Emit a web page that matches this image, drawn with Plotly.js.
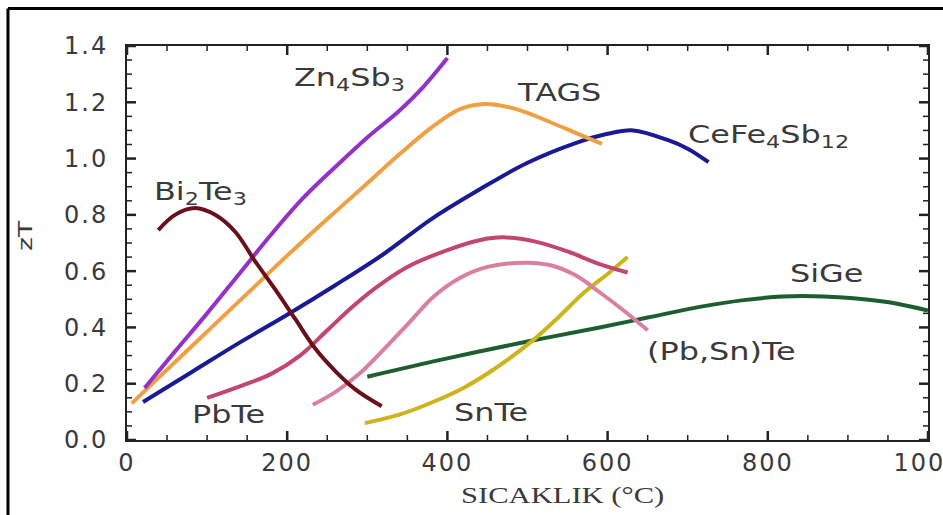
<!DOCTYPE html>
<html>
<head>
<meta charset="utf-8">
<script src="https://cdn.plot.ly/plotly-3.0.1.min.js"></script>
<style>
  html, body { margin: 0; padding: 0; background: #fff; }
  #chart { width: 943px; height: 515px; }
  .xtick text, .ytick text { letter-spacing: 2px; }
  .annotation-text { transform-box: fill-box; transform-origin: 0% 50%; transform: scaleX(1.33); }
</style>
</head>
<body>
<div id="chart"></div>
<script>
// Series data (temperature in °C, zT)
const bi2te3_x = [39, 60, 85, 110, 135, 160, 185, 210, 235, 260, 285, 318];
const bi2te3_y = [0.746, 0.80, 0.824, 0.80, 0.74, 0.635, 0.535, 0.43, 0.325, 0.245, 0.18, 0.12];

const zn4sb3_x = [22, 60, 100, 140, 180, 220, 260, 300, 340, 370, 400];
const zn4sb3_y = [0.185, 0.315, 0.45, 0.59, 0.73, 0.86, 0.97, 1.075, 1.17, 1.255, 1.357];

const tags_x = [6, 50, 100, 150, 200, 250, 300, 340, 380, 415, 447, 487, 528, 565, 593];
const tags_y = [0.13, 0.25, 0.385, 0.52, 0.655, 0.785, 0.912, 1.015, 1.11, 1.175, 1.194, 1.175, 1.13, 1.085, 1.052];

const cefe_x = [20, 80, 140, 200, 260, 320, 380, 440, 500, 560, 600, 632, 674, 700, 726];
const cefe_y = [0.135, 0.24, 0.345, 0.445, 0.55, 0.66, 0.785, 0.89, 0.985, 1.055, 1.088, 1.10, 1.067, 1.035, 0.987];

const pbte_x = [100, 140, 180, 216, 250, 280, 310, 350, 400, 440, 470, 510, 550, 590, 625];
const pbte_y = [0.15, 0.19, 0.235, 0.30, 0.39, 0.47, 0.54, 0.615, 0.675, 0.71, 0.72, 0.705, 0.67, 0.625, 0.595];

const pbsnte_x = [232, 260, 290, 320, 350, 383, 415, 450, 499, 530, 560, 590, 620, 650];
const pbsnte_y = [0.125, 0.17, 0.235, 0.32, 0.41, 0.51, 0.575, 0.615, 0.63, 0.62, 0.585, 0.525, 0.46, 0.39];

const snte_x = [297, 340, 382, 420, 460, 507, 540, 569, 600, 625];
const snte_y = [0.06, 0.09, 0.135, 0.185, 0.255, 0.355, 0.44, 0.52, 0.59, 0.65];

const sige_x = [300, 400, 500, 590, 650, 715, 770, 819, 870, 920, 960, 1000];
const sige_y = [0.225, 0.29, 0.35, 0.40, 0.435, 0.473, 0.497, 0.51, 0.51, 0.50, 0.485, 0.46];

// Curve labels
const labelText = ["Zn<sub>4</sub>Sb<sub>3</sub>", "TAGS", "CeFe<sub>4</sub>Sb<sub>12</sub>", "Bi<sub>2</sub>Te<sub>3</sub>",
                   "SiGe", "(Pb,Sn)Te", "PbTe", "SnTe"];
const labelX = [206, 484, 698, 31, 825, 647, 79, 406];
const labelY = [1.28, 1.233, 1.08, 0.875, 0.59, 0.313, 0.089, 0.096];

// Axis tick positions
const xTickVals = [0, 200, 400, 600, 800, 1000];
const yTickVals = [0.0, 0.2, 0.4, 0.6, 0.8, 1.0, 1.2, 1.4];
const xMinorStep = 50;
const yMinorStep = 0.05;

function series(x, y, color) {
  return { x: x, y: y, type: 'scatter', mode: 'lines',
           line: { color: color, width: 4, shape: 'spline', smoothing: 1 },
           hoverinfo: 'skip', showlegend: false };
}

const data = [
  series(sige_x, sige_y, '#1d5e2e'),
  series(snte_x, snte_y, '#cdb31c'),
  series(pbsnte_x, pbsnte_y, '#d9809f'),
  series(pbte_x, pbte_y, '#c3466f'),
  series(cefe_x, cefe_y, '#1a1a96'),
  series(tags_x, tags_y, '#f0a043'),
  series(zn4sb3_x, zn4sb3_y, '#9431c8'),
  series(bi2te3_x, bi2te3_y, '#6a0f1b')
];

const tickFont = { family: 'DejaVu Sans, sans-serif', size: 24, color: '#3a3a3a' };

const annotations = labelText.map((t, i) => ({
  x: labelX[i], y: labelY[i], xref: 'x', yref: 'y', text: t, showarrow: false,
  xanchor: 'left', yanchor: 'middle',
  font: { family: 'DejaVu Sans, sans-serif', size: 24, color: '#3a3a3a' }
}));
annotations.push({
  xref: 'paper', yref: 'paper', x: 0, y: 0.518, xshift: -102, text: 'zT', textangle: -90,
  showarrow: false, xanchor: 'center', yanchor: 'middle',
  font: { family: 'DejaVu Sans, sans-serif', size: 20, color: '#3a3a3a' }
});
annotations.push({
  xref: 'paper', yref: 'paper', x: 0.544, y: -0.1396, text: 'SICAKLIK (°C)',
  showarrow: false, xanchor: 'center', yanchor: 'middle',
  font: { family: 'Liberation Serif, Times New Roman, serif', size: 23, color: '#3a3a3a' }
});

// Inside tick marks on all four sides, placed through the axes' own scales (pixel-sized length)
const tickShapes = [];
function xTick(v, len, w) {
  [[0, 1], [1, -1]].forEach(function (p) {
    tickShapes.push({ type: 'line', xref: 'x', yref: 'paper', ysizemode: 'pixel', yanchor: p[0],
      x0: v, x1: v, y0: 0, y1: p[1] * len, line: { color: '#222', width: w } });
  });
}
function yTick(v, len, w) {
  [[0, 1], [1, -1]].forEach(function (p) {
    tickShapes.push({ type: 'line', yref: 'y', xref: 'paper', xsizemode: 'pixel', xanchor: p[0],
      y0: v, y1: v, x0: 0, x1: p[1] * len, line: { color: '#222', width: w } });
  });
}
xTickVals.forEach(function (v) { xTick(v, 9, 2.5); });
yTickVals.forEach(function (v) { yTick(v, 9, 2.5); });
for (let k = 1; k * xMinorStep < 1000; k++) {
  const v = k * xMinorStep;
  if (v % 200 !== 0) xTick(v, 5, 1.5);
}
for (let k = 1; k < 28; k++) {
  if (k % 4 !== 0) yTick(Math.round(k * yMinorStep * 100) / 100, 5, 1.5);
}

const layout = {
  width: 943, height: 515,
  margin: { l: 127, r: 15, t: 46, b: 75 },
  paper_bgcolor: '#ffffff', plot_bgcolor: '#ffffff',
  showlegend: false,
  xaxis: {
    range: [0, 1000], tickmode: 'array', tickvals: xTickVals,
    showgrid: false, zeroline: false, showline: true, linecolor: '#222', linewidth: 2,
    mirror: true, ticks: '', tickfont: tickFont, ticklabeloverflow: 'allow'
  },
  yaxis: {
    range: [0, 1.4], tickmode: 'array', tickvals: yTickVals, tickformat: '.1f', ticksuffix: '\u2002',
    showgrid: false, zeroline: false, showline: true, linecolor: '#222', linewidth: 2,
    mirror: true, ticks: '', tickfont: tickFont, ticklabelstandoff: 12
  },
  annotations: annotations,
  shapes: [
    { type: 'line', xref: 'paper', yref: 'paper', x0: -0.1486, x1: 1.05, y0: 1.0952, y1: 1.0952,
      line: { color: '#000', width: 3 } },
    { type: 'line', xref: 'paper', yref: 'paper', x0: -0.1486, x1: -0.1486, y0: 1.0952, y1: -0.25,
      line: { color: '#000', width: 3 } }
  ].concat(tickShapes)
};

Plotly.newPlot('chart', data, layout, { displayModeBar: false });
</script>
</body>
</html>
